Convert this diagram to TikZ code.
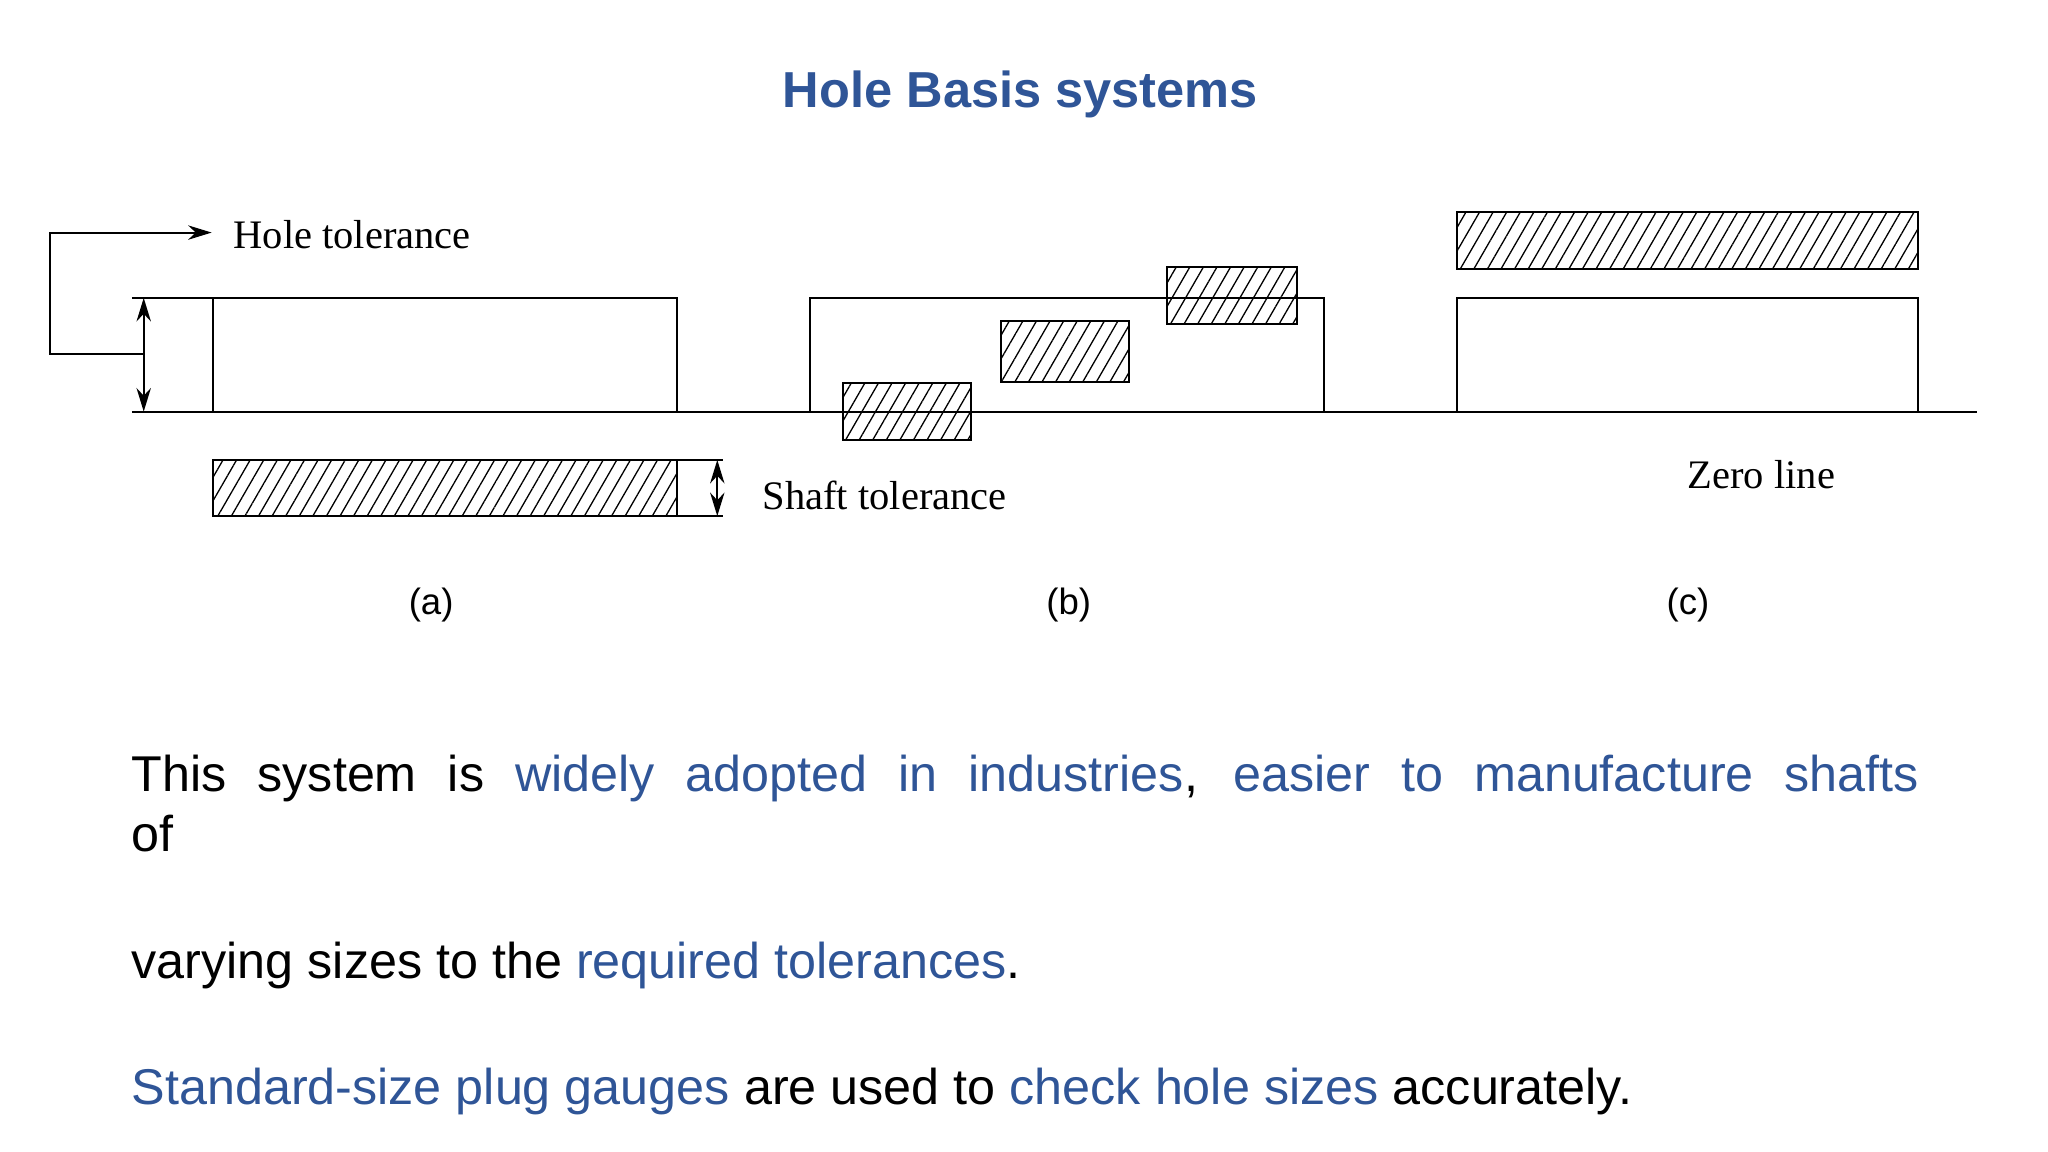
\documentclass[tikz,border=0pt]{standalone}
\usepackage{fontspec}
\setmainfont{Liberation Sans}
\newfontfamily\serif{Liberation Serif}
\usetikzlibrary{arrows.meta, patterns.meta}
\definecolor{SlideBlue}{HTML}{2F5597}
\begin{document}
\begin{tikzpicture}[x=1pt, y=-1pt, line width=1.5pt,
  hole/.style={draw=black, fill=white},
  shaft/.style={draw=black, pattern={Lines[angle=60, distance=9pt, line width=1pt]}},
  lbl/.style={font=\serif\fontsize{31}{34}\selectfont, anchor=base west, inner sep=0pt},
  sublbl/.style={font=\fontsize{28}{30}\selectfont, anchor=base, inner sep=0pt},
  body/.style={font=\fontsize{38.5}{42}\selectfont, anchor=base west, inner sep=0pt},
  dim/.style={{Stealth[length=18pt, width=11pt]}-{Stealth[length=18pt, width=11pt]}, line width=1.5pt}]
\useasboundingbox (0,0) rectangle (1567.5,881.7);

\node[font=\bfseries\fontsize{38.7}{42}\selectfont, text=SlideBlue] (title) at (781,72) {Hole Basis systems};

% zero line
\coordinate (z0) at (101,315);
\coordinate (z1) at (1513,315);
\draw (z0) -- (z1);

% (a)
\draw[hole] (163,228) rectangle (518,315);
\draw[shaft] (163,352) rectangle (518,395);
\coordinate (ht) at (101,228);
\coordinate (htr) at (163,228);
\draw (ht) -- (htr);
\coordinate (da) at (110,228);
\coordinate (db) at (110,315);
\draw[dim] (da) -- (db);
\coordinate (l0) at (110,271);
\coordinate (l1) at (38,271);
\coordinate (l2) at (38,178);
\coordinate (l3) at (162,178);
\node[lbl] (holetol) at (178,190) {Hole tolerance};
\draw[-{Stealth[length=18pt, width=11pt]}] (l0) -- (l1) -- (l2) -- (l3);
\coordinate (s0) at (518,352);
\coordinate (s1) at (553,352);
\coordinate (s2) at (518,395);
\coordinate (s3) at (553,395);
\draw (s0) -- (s1) (s2) -- (s3);
\coordinate (sa) at (549,352);
\coordinate (sb) at (549,395);
\draw[dim] (sa) -- (sb);
\node[lbl] (shafttol) at (583,390) {Shaft tolerance};
\node[sublbl] (capa) at (330,470) {(a)};

% (b)
\draw[hole] (620,228) rectangle (1013,315);
\draw[shaft] (645,293) rectangle (743,337);
\draw[shaft] (766,246) rectangle (864,292);
\draw[shaft] (893,204) rectangle (993,248);
\node[sublbl] (capb) at (818,470) {(b)};

% (c)
\draw[shaft] (1115,162) rectangle (1468,206);
\draw[hole] (1115,228) rectangle (1468,315);
\node[lbl] (zero) at (1291,374) {Zero line};
\node[sublbl] (capc) at (1292,470) {(c)};

% text
\node[body] (t1) at (100,606) {\makebox[1368pt][s]{This system is \textcolor{SlideBlue}{widely adopted in industries}, \textcolor{SlideBlue}{easier to manufacture shafts}}};
\node[body] (t2) at (100,652) {of};
\node[body] (t3) at (100,749) {varying sizes to the \textcolor{SlideBlue}{required tolerances}.};
\node[body] (t4) at (100,845) {\textcolor{SlideBlue}{Standard-size plug gauges} are used to \textcolor{SlideBlue}{check hole sizes} accurately.};
\end{tikzpicture}
\end{document}
